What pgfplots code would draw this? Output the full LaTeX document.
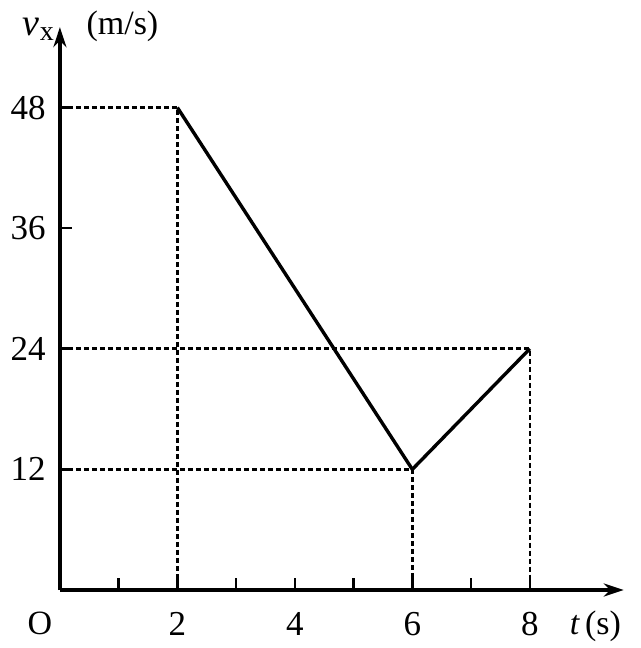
\documentclass[border=0pt]{standalone}
\usepackage{pgfplots}
\pgfplotsset{compat=1.18}
\usetikzlibrary{arrows.meta}
\usepackage{fontspec}
\setmainfont{Liberation Serif}
\begin{document}
\fontsize{34}{40}\selectfont
\begin{tikzpicture}
\begin{axis}[
  scale only axis, width=564pt, height=563pt,
  xmin=0, xmax=9.6, ymin=0, ymax=56,
  axis lines=left,
  axis line style={line width=3.4pt, -{Stealth[length=20pt,width=13pt]}},
  clip=false,
  xtick={1,2,3,4,5,6,7,8},
  xticklabels={,2,,4,,6,,8},
  ytick={12,24,36,48},
  tick align=inside,
  major tick length=12pt,
  every tick/.style={black, line width=2.6pt},
  /pgf/number format/assume math mode=true,
  every tick label/.style={inner sep=0pt, font=\fontsize{35}{40}\selectfont},
  xticklabel style={anchor=north, yshift=-22pt},
  yticklabel style={anchor=east, xshift=-14pt},
]
\addplot[line width=2.6pt, dash pattern=on 5pt off 3pt] coordinates {(0,48) (2,48) (2,0)};
\addplot[line width=2.6pt, dash pattern=on 5pt off 3pt] coordinates {(0,24) (8,24) (8,0)};
\addplot[line width=2.6pt, dash pattern=on 5pt off 3pt] coordinates {(0,12) (6,12) (6,0)};
\addplot[line width=3.4pt, line join=round] coordinates {(2,48) (6,12) (8,24)};
\node[anchor=base, inner sep=0pt] at (axis cs:-0.34,-4.45) {O};
\node[anchor=base west, inner sep=0pt] at (axis cs:8.68,-4.45) {\itshape t\upshape\,(s)};
\node[anchor=base east, inner sep=0pt] at (axis cs:-0.1,55.2) {\fontsize{38}{40}\selectfont\itshape v\upshape\raisebox{-0.3ex}{\fontsize{28}{28}\selectfont x}};
\node[anchor=base west, inner sep=0pt] at (axis cs:0.45,55.3) {(m/s)};
\coordinate (ll) at (axis cs:-1.02,-5.77);
\coordinate (ur) at (axis cs:9.89,58.7);
\end{axis}
\pgfresetboundingbox
\path[use as bounding box] (ll) rectangle (ur);
\end{tikzpicture}
\end{document}
